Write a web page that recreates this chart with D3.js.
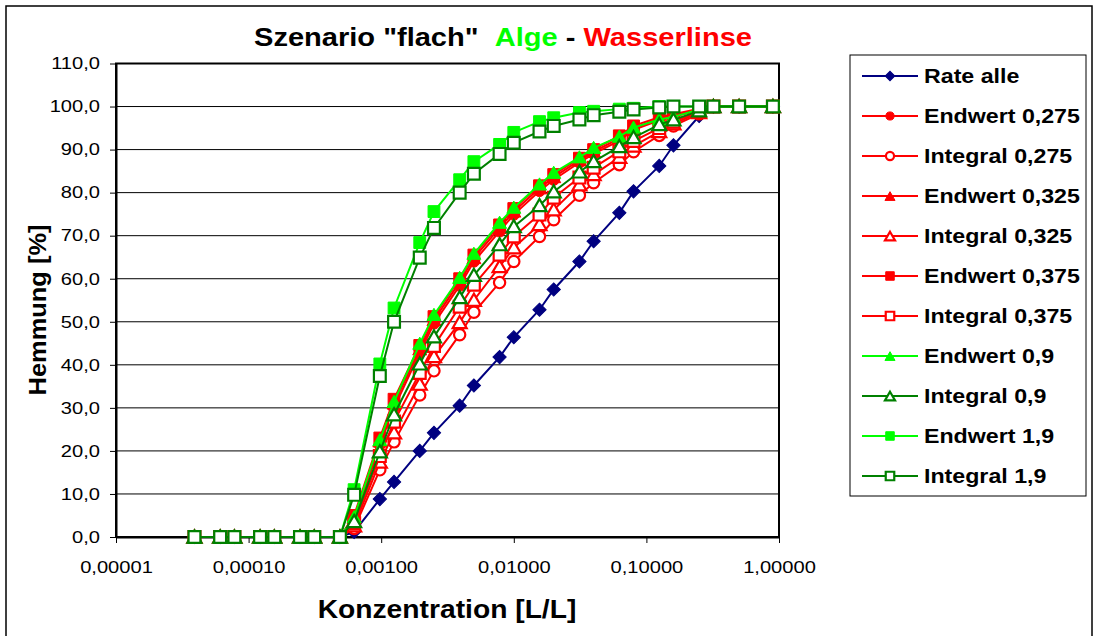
<!DOCTYPE html>
<html>
<head>
<meta charset="utf-8">
<script src="https://cdn.jsdelivr.net/npm/d3@7"></script>
<style>
  body { margin: 0; background: #fff; }
  text { font-family: "Liberation Sans", Arial, sans-serif; }
</style>
</head>
<body>
<svg id="chart" width="1098" height="636"></svg>
<script>
// concentrations [L/L]
let konz = [0.0000390625, 0.00006103516, 0.000078125, 0.0001220703, 0.00015625, 0.0002441406,
    0.0003125, 0.0004882813, 0.000625, 0.0009765625, 0.00125, 0.001953125, 0.0025, 0.00390625,
    0.005, 0.0078125, 0.01, 0.015625, 0.02, 0.03125, 0.04, 0.0625, 0.08, 0.125, 0.16, 0.25,
    0.32, 0.5, 0.9]

let null8 = [0, 0, 0, 0, 0, 0, 0, 0]

let rateAlle = null8.concat([1.2, 8.8, 12.8, 20.0, 24.2, 30.5, 35.2, 41.8, 46.4, 52.8, 57.5,
    64.0, 68.7, 75.3, 80.3, 86.2, 91.0, 97.8, 100, 100, 100])
let endwert0275 = null8.concat([3.8, 21.4, 30.0, 42.8, 49.6, 58.4, 64.0, 71.0, 74.9, 80.4, 83.0,
    87.0, 89.0, 92.1, 94.6, 96.8, 97.6, 99.2, 100, 100, 100])
let integral0275 = null8.concat([2.0, 15.6, 22.1, 33.0, 38.6, 47.0, 52.2, 59.1, 64.0, 69.8, 73.7,
    79.4, 82.3, 86.5, 89.5, 93.3, 95.5, 98.3, 100, 100, 100])
let endwert0325 = null8.concat([4.4, 22.2, 31.0, 43.6, 50.4, 59.2, 64.8, 71.8, 75.6, 81.0, 83.6,
    87.5, 89.5, 92.6, 95.0, 97.1, 97.9, 99.3, 100, 100, 100])
let integral0325 = null8.concat([2.6, 17.4, 24.2, 35.5, 41.9, 49.8, 55.0, 62.8, 67.2, 72.6, 76.0,
    81.8, 84.2, 88.2, 90.8, 94.2, 96.0, 98.6, 100, 100, 100])
let endwert0375 = null8.concat([5.0, 23.0, 32.0, 44.5, 51.2, 60.0, 65.5, 72.5, 76.3, 81.6, 84.2,
    88.0, 90.0, 93.2, 95.5, 97.5, 98.2, 99.5, 100, 100, 100])
let integral0375 = null8.concat([3.2, 18.8, 26.8, 38.1, 44.4, 53.5, 58.6, 65.6, 69.8, 74.9, 78.8,
    83.5, 85.8, 89.6, 92.0, 95.0, 96.5, 98.8, 100, 100, 100])
let endwert09 = null8.concat([4.6, 22.5, 31.4, 44.9, 51.6, 60.2, 65.8, 73.0, 76.5, 81.9, 84.6,
    88.2, 90.4, 93.0, 95.1, 97.0, 97.6, 99.3, 100, 100, 100])
let integral09 = null8.concat([3.6, 19.8, 28.4, 40.2, 46.5, 55.6, 60.8, 67.9, 72.1, 77.0, 80.2,
    84.8, 87.2, 90.7, 92.8, 95.8, 96.9, 99.0, 100, 100, 100])
let endwert19 = null8.concat([11.0, 40.2, 53.2, 68.4, 75.6, 83.0, 87.2, 91.2, 94.0, 96.5, 97.4,
    98.6, 98.9, 99.4, 99.6, 100, 100, 100, 100, 100, 100])
let integral19 = null8.concat([9.8, 37.4, 50.0, 64.9, 71.8, 80.0, 84.4, 89.0, 91.6, 94.2, 95.5,
    97.0, 98.0, 98.8, 99.3, 99.8, 100, 100, 100, 100, 100])

let xTicks = [0.00001, 0.0001, 0.001, 0.01, 0.1, 1]
let yTicks = [0, 10, 20, 30, 40, 50, 60, 70, 80, 90, 100, 110]

let NAVY = "#000080", RED = "#ff0000", LIME = "#00ff00", GREEN = "#008000"

let series = [
    {name: "Rate alle", values: rateAlle, color: NAVY, shape: "diamond", filled: true},
    {name: "Endwert 0,275", values: endwert0275, color: RED, shape: "circle", filled: true},
    {name: "Integral 0,275", values: integral0275, color: RED, shape: "circle", filled: false},
    {name: "Endwert 0,325", values: endwert0325, color: RED, shape: "triangle", filled: true},
    {name: "Integral 0,325", values: integral0325, color: RED, shape: "triangle", filled: false},
    {name: "Endwert 0,375", values: endwert0375, color: RED, shape: "square", filled: true},
    {name: "Integral 0,375", values: integral0375, color: RED, shape: "square", filled: false},
    {name: "Endwert 0,9", values: endwert09, color: LIME, shape: "triangle", filled: true},
    {name: "Integral 0,9", values: integral09, color: GREEN, shape: "triangle", filled: false},
    {name: "Endwert 1,9", values: endwert19, color: LIME, shape: "square", filled: true},
    {name: "Integral 1,9", values: integral19, color: GREEN, shape: "square", filled: false}
]

// text in the source image is drawn wider than normal Arial
let SX = 1.22

let de = d3.formatLocale({decimal: ",", thousands: ".", grouping: [3], currency: ["", " €"]})

let svg = d3.select("#chart")
let m = {left: 116, right: 779, top: 63.5, bottom: 537}

let x = d3.scaleLog().domain([0.00001, 1]).range([m.left, m.right])
let y = d3.scaleLinear().domain([0, 110]).range([m.bottom, m.top])

function symbolPath(shape, big) {
    let k = big ? 1 : 0.72
    if (shape == "diamond") return d3.symbol(d3.symbolSquare, 88 * k * k)()
    if (shape == "circle") return d3.symbol(d3.symbolCircle, 100 * k * k)()
    if (shape == "triangle") return d3.symbol(d3.symbolTriangle, 85 * k * k)()
    return d3.symbol(d3.symbolSquare, 140 * k * k)()
}

function drawMarker(g, s, big) {
    let p = g.append("path")
        .attr("d", symbolPath(s.shape, big))
        .attr("fill", s.filled ? s.color : "#fff")
        .attr("stroke", s.color)
        .attr("stroke-width", s.filled ? 1 : 2.2)
    if (s.shape == "diamond") p.attr("transform", "rotate(45)")
    if (s.shape == "triangle") p.attr("transform", "translate(0,1.5)")
    return p
}

// outer frame
svg.append("rect")
    .attr("x", 6).attr("y", 6)
    .attr("width", 1086).attr("height", 640)
    .attr("fill", "none")
    .attr("stroke", "#000")
    .attr("stroke-width", 1.5)

// gridlines
svg.append("g")
    .selectAll("line")
    .data(yTicks.slice(1))
    .join("line")
    .attr("x1", m.left).attr("x2", m.right)
    .attr("y1", d => y(d)).attr("y2", d => y(d))
    .attr("stroke", "#000")
    .attr("stroke-width", 1)

svg.append("rect")
    .attr("x", m.left).attr("y", m.top)
    .attr("width", m.right - m.left).attr("height", m.bottom - m.top)
    .attr("fill", "none")
    .attr("stroke", "#000")
    .attr("stroke-width", 2)

let axisL = d3.axisLeft(y)
    .tickValues(yTicks)
    .tickFormat(de.format(".1f"))
    .tickSizeInner(6)
    .tickSizeOuter(0)
    .tickPadding(10)

let axisB = d3.axisBottom(x)
    .tickValues(xTicks)
    .tickFormat(de.format(".5f"))
    .tickSizeInner(6)
    .tickSizeOuter(0)
    .tickPadding(18)

function styleAxis(g) {
    g.select(".domain").attr("stroke", "#000").attr("stroke-width", 2)
    g.selectAll(".tick line").attr("stroke", "#000").attr("stroke-width", 1)
    g.selectAll(".tick text")
        .attr("fill", "#000")
        .style("font-size", "16.5px")
        .attr("x", function () { return (+d3.select(this).attr("x") || 0) / SX })
        .attr("transform", `scale(${SX},1)`)
}

svg.append("g")
    .attr("transform", `translate(${m.left},0)`)
    .call(axisL)
    .call(styleAxis)
    .attr("font-family", null)

svg.append("g")
    .attr("transform", `translate(0,${m.bottom})`)
    .call(axisB)
    .call(styleAxis)
    .attr("font-family", null)

// series lines and markers
let line = d3.line()
    .x((d, i) => x(konz[i]))
    .y(d => y(d))

let plot = svg.append("g")
series.forEach(s => {
    let g = plot.append("g")
    g.append("path")
        .attr("d", line(s.values))
        .attr("fill", "none")
        .attr("stroke", s.color)
        .attr("stroke-width", 2)
    g.selectAll("g")
        .data(s.values)
        .join("g")
        .attr("transform", (d, i) => `translate(${x(konz[i])},${y(d)})`)
        .each(function () { drawMarker(d3.select(this), s, true) })
})

// title
let title = svg.append("text")
    .attr("transform", `translate(503,46) scale(1.14,1)`)
    .attr("text-anchor", "middle")
    .style("font-size", "25.5px")
    .style("font-weight", "bold")
    .style("white-space", "pre")
title.append("tspan").attr("fill", "#000").text('Szenario "flach"  ')
title.append("tspan").attr("fill", LIME).text("Alge")
title.append("tspan").attr("fill", "#000").text(" - ")
title.append("tspan").attr("fill", RED).text("Wasserlinse")

// axis titles
svg.append("text")
    .attr("transform", `translate(447,618) scale(1.13,1)`)
    .attr("text-anchor", "middle")
    .style("font-size", "25px")
    .style("font-weight", "bold")
    .text("Konzentration [L/L]")

svg.append("text")
    .attr("transform", `translate(46,310) rotate(-90) scale(1.06,1)`)
    .attr("text-anchor", "middle")
    .style("font-size", "24px")
    .style("font-weight", "bold")
    .text("Hemmung [%]")

// legend
let legend = svg.append("g").attr("transform", "translate(850,55)")
legend.append("rect")
    .attr("width", 236).attr("height", 441)
    .attr("fill", "#fff")
    .attr("stroke", "#000")
    .attr("stroke-width", 1)

let item = legend.selectAll("g.item")
    .data(series)
    .join("g")
    .attr("class", "item")
    .attr("transform", (d, i) => `translate(0,${21 + i * 40})`)

item.append("line")
    .attr("x1", 12).attr("x2", 68)
    .attr("stroke", d => d.color)
    .attr("stroke-width", 2)

item.append("g")
    .attr("transform", "translate(40,0)")
    .each(function (d) { drawMarker(d3.select(this), d, false) })

item.append("text")
    .attr("transform", `translate(74,7) scale(1.16,1)`)
    .style("font-size", "20px")
    .style("font-weight", "bold")
    .text(d => d.name)
</script>
</body>
</html>
